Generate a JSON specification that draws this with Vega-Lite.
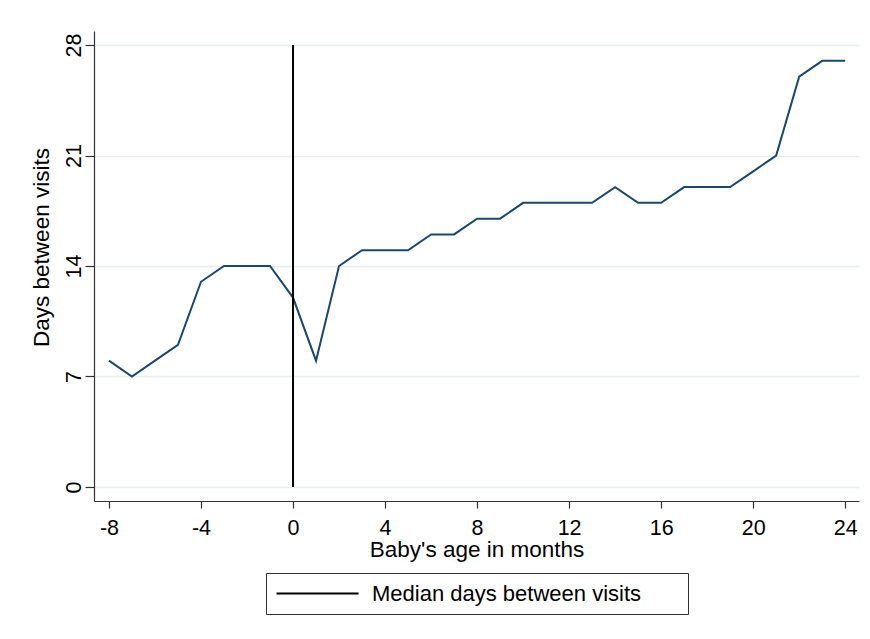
{
  "$schema": "https://vega.github.io/schema/vega-lite/v6.json",
  "width": 765,
  "height": 470,
  "autosize": {"type": "none"},
  "padding": {"left": 94, "top": 31, "right": 11, "bottom": 138},
  "background": "white",
  "config": {
    "view": {"stroke": null},
    "font": "Liberation Sans",
    "axis": {"domainColor": "#333333", "tickColor": "#333333", "labelColor": "#000000", "titleColor": "#000000", "titleFontWeight": "normal", "labelFontSize": 21.5, "titleFontSize": 22.5, "domainWidth": 1.2, "tickWidth": 1.2}
  },
  "datasets": {
    "visits": [
      {"month": -8, "days": 8},
      {"month": -7, "days": 7},
      {"month": -6, "days": 8},
      {"month": -5, "days": 9},
      {"month": -4, "days": 13},
      {"month": -3, "days": 14},
      {"month": -2, "days": 14},
      {"month": -1, "days": 14},
      {"month": 0, "days": 12},
      {"month": 1, "days": 8},
      {"month": 2, "days": 14},
      {"month": 3, "days": 15},
      {"month": 4, "days": 15},
      {"month": 5, "days": 15},
      {"month": 6, "days": 16},
      {"month": 7, "days": 16},
      {"month": 8, "days": 17},
      {"month": 9, "days": 17},
      {"month": 10, "days": 18},
      {"month": 11, "days": 18},
      {"month": 12, "days": 18},
      {"month": 13, "days": 18},
      {"month": 14, "days": 19},
      {"month": 15, "days": 18},
      {"month": 16, "days": 18},
      {"month": 17, "days": 19},
      {"month": 18, "days": 19},
      {"month": 19, "days": 19},
      {"month": 20, "days": 20},
      {"month": 21, "days": 21},
      {"month": 22, "days": 26},
      {"month": 23, "days": 27},
      {"month": 24, "days": 27}
    ],
    "median": [
      {"month": 0, "low": 0, "high": 28, "series": "Median days between visits"}
    ]
  },
  "layer": [
    {
      "data": {"name": "visits"},
      "mark": {"type": "line", "color": "#1a476f", "strokeWidth": 2},
      "encoding": {
        "x": {
          "field": "month", "type": "quantitative",
          "scale": {"domain": [-8.65, 24.6], "nice": false, "zero": false},
          "axis": {
            "values": [-8, -4, 0, 4, 8, 12, 16, 20, 24],
            "labelExpr": "'' + datum.value",
            "grid": false, "tickSize": 7, "labelPadding": 9,
            "title": "Baby's age in months",
            "titleY": 37, "titleBaseline": "top"
          }
        },
        "y": {
          "field": "days", "type": "quantitative",
          "scale": {"domain": [-0.89, 28.89], "nice": false, "zero": false},
          "axis": {
            "values": [0, 7, 14, 21, 28],
            "grid": true, "gridColor": "#e6eef0", "gridWidth": 1.3,
            "tickSize": 9, "labelPadding": 5,
            "labelAngle": -90, "labelAlign": "center", "labelBaseline": "alphabetic",
            "title": "Days between visits",
            "titleX": -41, "titleY": 216, "titleAngle": -90,
            "titleAlign": "center", "titleBaseline": "bottom"
          }
        }
      }
    },
    {
      "data": {"name": "median"},
      "mark": {"type": "rule", "strokeWidth": 2},
      "encoding": {
        "x": {"field": "month", "type": "quantitative"},
        "y": {"field": "low", "type": "quantitative"},
        "y2": {"field": "high"},
        "stroke": {
          "field": "series", "type": "nominal",
          "scale": {"range": ["#000000"]},
          "legend": {
            "title": "\u00a0",
            "titleOrient": "right", "titlePadding": 38, "titleFontSize": 6,
            "orient": "none", "legendX": 172, "legendY": 542,
            "strokeColor": "#333333", "padding": 9,
            "symbolType": "M-0.95,0H6.86", "symbolSize": 441, "symbolStrokeWidth": 2,
            "labelFontSize": 22, "labelOffset": 74, "labelColor": "#000000", "labelLimit": 0
          }
        }
      }
    }
  ]
}
